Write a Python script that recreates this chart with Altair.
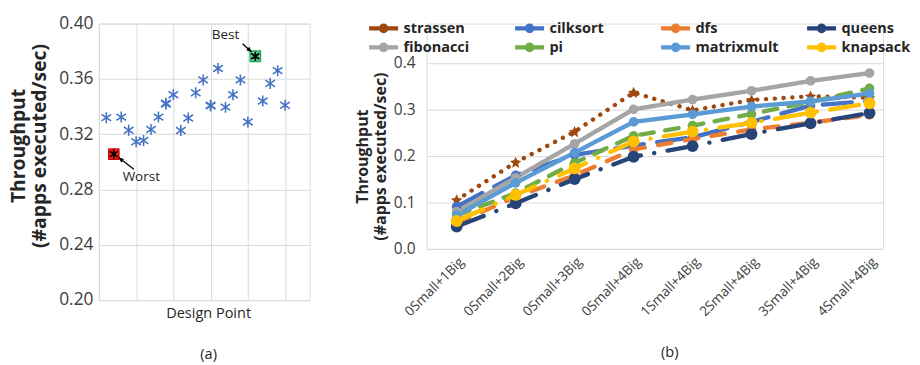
import altair as alt
import pandas as pd

# ---------------- (a) design space scatter ----------------
design_idx = [1, 2, 3, 4, 5, 6, 7, 8, 9, 9, 10, 11, 12, 13, 14, 15, 15, 16, 17, 18, 19, 20, 21, 22, 23, 24, 25]
design_tp = [0.332, 0.3056, 0.3324, 0.3229, 0.3146, 0.3155, 0.3234, 0.3324, 0.3419, 0.3424,
             0.3486, 0.3227, 0.3317, 0.3500, 0.3593, 0.3405, 0.3410, 0.3676, 0.3396, 0.3486,
             0.3593, 0.3289, 0.3764, 0.3440, 0.3567, 0.3660, 0.3410]
worst_idx = [2]
worst_tp = [0.3056]
best_idx = [21]
best_tp = [0.3764]
ann_text = ["Best", "Worst"]
ann_x = [17.0, 5.7]
ann_y = [0.3915, 0.2890]
arrow_x = [19.3, 4.7]
arrow_y = [0.3855, 0.2946]
arrow_x2 = [20.5, 2.65]
arrow_y2 = [0.3795, 0.3031]
arrow_angle = [133, 308]
a_yticks = [0.20, 0.22, 0.24, 0.26, 0.28, 0.30, 0.32, 0.34, 0.36, 0.38, 0.40]
a_xgrid = [0, 5, 10, 15, 20, 25]

# ---------------- (b) throughput vs configuration ----------------
configs = ["0Small+1Big", "0Small+2Big", "0Small+3Big", "0Small+4Big",
           "1Small+4Big", "2Small+4Big", "3Small+4Big", "4Small+4Big"]
bench_names = ["strassen", "cilksort", "dfs", "queens", "fibonacci", "pi", "matrixmult", "knapsack"]
strassen = [0.105, 0.186, 0.252, 0.336, 0.298, 0.320, 0.328, 0.325]
cilksort = [0.091, 0.158, 0.202, 0.222, 0.240, 0.273, 0.308, 0.318]
dfs = [0.056, 0.112, 0.158, 0.214, 0.236, 0.257, 0.271, 0.288]
queens = [0.048, 0.098, 0.150, 0.198, 0.221, 0.247, 0.270, 0.292]
fibonacci = [0.080, 0.153, 0.226, 0.300, 0.321, 0.340, 0.361, 0.378]
pi = [0.072, 0.120, 0.185, 0.243, 0.265, 0.290, 0.316, 0.345]
matrixmult = [0.072, 0.142, 0.207, 0.273, 0.289, 0.306, 0.317, 0.334]
knapsack = [0.060, 0.116, 0.173, 0.231, 0.252, 0.271, 0.293, 0.313]
b_yticks = [0.0, 0.1, 0.2, 0.3, 0.4]

colors = ["#9E480E", "#4472C4", "#ED7D31", "#264478", "#A5A5A5", "#70AD47", "#5B9BD5", "#FFC000"]
dashes = [[0.1, 9], [30, 14], [14, 14], [30, 14, 0.1, 14], [1, 0], [14, 12], [1, 0], [30, 14, 0.1, 14]]
STAR = "M0,-1L0.3,-0.35L1,-0.25L0.45,0.2L0.6,1L0,0.55L-0.6,1L-0.45,0.2L-1,-0.25L-0.3,-0.35Z"
shapes = [STAR, "circle", "circle", "circle", "circle", "circle", "circle", "circle"]
msizes = [140, 100, 100, 150, 100, 100, 100, 150]

FONT = "Open Sans"
ASTER = "M-0.87,-0.6L0.87,0.6M-0.87,0.6L0.87,-0.6M0,-1L0,1"
ARROWHEAD = "M0,0L-0.45,1L0.45,1Z"
LEG_SYM = "M-3,0L3,0M0.55,0A0.55,0.55 0 1,1 -0.55,0A0.55,0.55 0 1,1 0.55,0"

# ---- panel (a)
df_a = pd.DataFrame({"idx": design_idx, "tp": design_tp})
df_w = pd.DataFrame({"idx": worst_idx, "tp": worst_tp})
df_b = pd.DataFrame({"idx": best_idx, "tp": best_tp})
df_ann = pd.DataFrame({"t": ann_text, "x": ann_x, "y": ann_y})
df_arr = pd.DataFrame({"x": arrow_x, "y": arrow_y, "x2": arrow_x2, "y2": arrow_y2, "ang": arrow_angle})

xa = alt.X("idx:Q", scale=alt.Scale(domain=[0, 28.3], nice=False, zero=False),
           axis=alt.Axis(values=a_xgrid, labels=False, ticks=False, domain=False, grid=True,
                         gridColor="#D9D9D9", title=["Design Point", "(a)"],
                         titleFont=FONT, titleFontSize=15, titleFontWeight="normal",
                         titleColor="#262626", titleLineHeight=42, titleBaseline="top",
                         titleX=113, titleY=6))
ya = alt.Y("tp:Q", scale=alt.Scale(domain=[0.2, 0.4], nice=False, zero=False),
           axis=alt.Axis(values=a_yticks, format=".2f", ticks=False, domain=False, grid=True,
                         gridColor="#D9D9D9", labelFont=FONT, labelFontSize=18, labelColor="#404040",
                         labelPadding=6, title=["Throughput", "(#apps executed/sec)"],
                         titleFont=FONT, titleFontSize=20, titleFontWeight="bold",
                         titleColor="#262626", titleLineHeight=21, titlePadding=10, titleY=126))

pts = alt.Chart(df_a).mark_point(shape=ASTER, filled=False, size=130, strokeWidth=1.6,
                                 color="#4472C4", opacity=1).encode(x=xa, y=ya)
worst_sq = alt.Chart(df_w).mark_point(shape="square", filled=True, size=121, color="#FF1A1A",
                                      stroke="#C00000", strokeWidth=1, opacity=1).encode(x="idx:Q", y="tp:Q")
best_sq = alt.Chart(df_b).mark_point(shape="square", filled=True, size=121, color="#5BD08F",
                                     stroke="#1FA45A", strokeWidth=1.2, opacity=1).encode(x="idx:Q", y="tp:Q")
worst_st = alt.Chart(df_w).mark_point(shape=ASTER, filled=False, size=90, strokeWidth=1.8,
                                      color="#000000", opacity=1).encode(x="idx:Q", y="tp:Q")
best_st = alt.Chart(df_b).mark_point(shape=ASTER, filled=False, size=90, strokeWidth=1.8,
                                     color="#000000", opacity=1).encode(x="idx:Q", y="tp:Q")
arrows = alt.Chart(df_arr).mark_rule(color="#000000", strokeWidth=1.3).encode(
    x="x:Q", y="y:Q", x2="x2:Q", y2="y2:Q")
heads = alt.Chart(df_arr).mark_point(shape=ARROWHEAD, filled=True, size=110, color="#000000",
                                     opacity=1).encode(x="x2:Q", y="y2:Q", angle=alt.Angle("ang:Q", scale=None))
ann = alt.Chart(df_ann).mark_text(font=FONT, fontSize=14, color="#262626").encode(
    x="x:Q", y="y:Q", text="t:N")

left = alt.layer(pts, worst_sq, best_sq, worst_st, best_st, arrows, heads, ann).properties(
    width=218, height=286)

# ---- panel (b)
series = [strassen, cilksort, dfs, queens, fibonacci, pi, matrixmult, knapsack]
rows = []
for name, vals, col, shp, msz, dsh in zip(bench_names, series, colors, shapes, msizes, dashes):
    for c, v in zip(configs, vals):
        rows.append({"config": c, "bench": name, "value": v,
                     "col": col, "shp": shp, "msz": msz, "dash": dsh})
df_r = pd.DataFrame(rows)

B_TOP = 0.4842  # headroom above 0.4 keeps the legend inside the plot band

xb = alt.X("config:N", sort=configs,
           scale=alt.Scale(type="point", padding=0.369, align=0.69),
           axis=alt.Axis(labelAngle=-45, labelFont=FONT, labelFontSize=14, labelColor="#404040",
                         labelPadding=6, ticks=False, domain=False, grid=False,
                         title="(b)", titleFont=FONT, titleFontSize=15, titleFontWeight="normal",
                         titleColor="#262626", titleX=251, titleY=106, titleBaseline="middle"))
yb = alt.Y("value:Q", scale=alt.Scale(domain=[0, B_TOP], nice=False),
           axis=alt.Axis(values=b_yticks, format=".1f", ticks=False, domain=False, grid=True,
                         gridColor="#D9D9D9", labelFont=FONT, labelFontSize=16, labelColor="#404040",
                         labelPadding=12, title=["Throughput", "(#apps executed/sec)"],
                         titleFont=FONT, titleFontSize=16.5, titleFontWeight="bold",
                         titleColor="#262626", titleLineHeight=19, titlePadding=5, titleY=137))
color = alt.Color("bench:N", sort=bench_names,
                  scale=alt.Scale(domain=bench_names, range=colors),
                  legend=alt.Legend(orient="none", legendX=-52, legendY=-3, columns=4, title=None,
                                    direction="horizontal",
                                    symbolType=LEG_SYM, symbolSize=100, symbolStrokeWidth=4.5,
                                    labelFont=FONT, labelFontSize=15, labelFontWeight="bold",
                                    labelColor="#262626", labelOffset=13, columnPadding=19,
                                    rowPadding=-12, gridAlign="all", padding=0))

lines = alt.Chart(df_r).mark_line(strokeWidth=4.5, strokeCap="round", strokeJoin="round").encode(
    x=xb, y=yb, color=color,
    detail="bench:N",
    strokeDash=alt.StrokeDash("dash", scale=None))
points = alt.Chart(df_r).mark_point(filled=True, opacity=1).encode(
    x=xb, y=yb,
    color=alt.Color("col:N", scale=None),
    shape=alt.Shape("shp:N", scale=None),
    size=alt.Size("msz:Q", scale=None))

right = alt.layer(lines, points).properties(width=472, height=233)

chart = alt.hconcat(left, right, spacing=45).resolve_legend(
    color="independent"
).resolve_scale(color="independent").properties(padding=0).configure_view(
    stroke=None).configure(font=FONT)

chart.save("out.html", embed_options={"renderer": "svg", "actions": False})
